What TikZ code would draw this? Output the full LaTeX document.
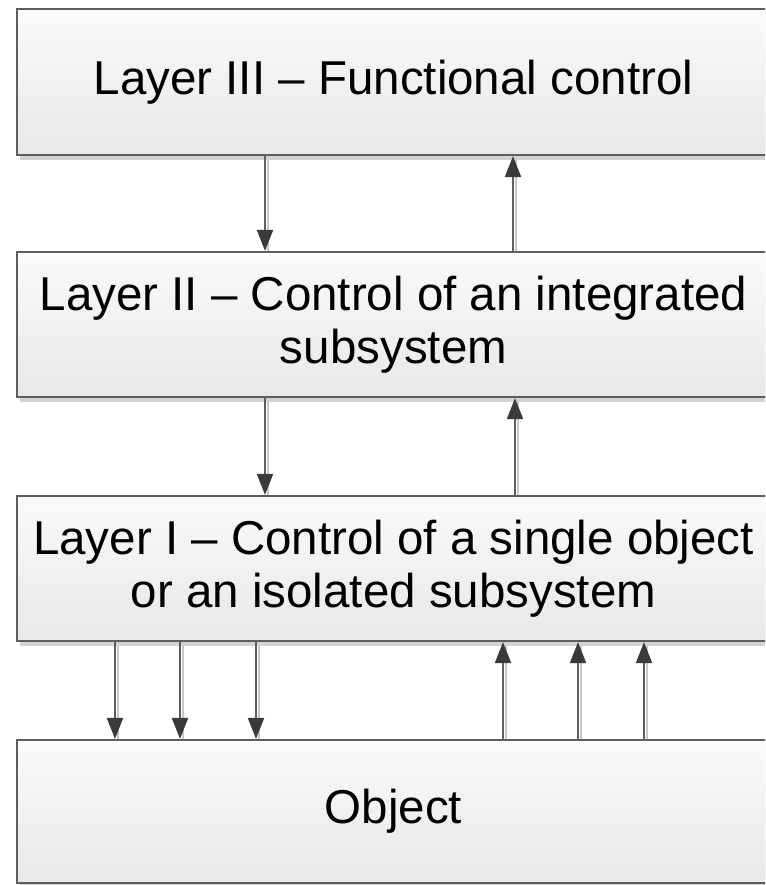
\documentclass[tikz,border=0pt]{standalone}
\usepackage{fontspec}
\setmainfont{Liberation Sans}
\usetikzlibrary{arrows.meta,shadows}
\definecolor{edge}{HTML}{5E5E5E}
\definecolor{tipc}{HTML}{3A3A3A}
\definecolor{shade}{HTML}{C8C8C8}
\tikzset{
  layerbox/.style={draw=edge, line width=2.2pt, rectangle, minimum width=753pt,
    top color=white!98!black, bottom color=white!91!black, align=center,
    font=\fontsize{47.5}{53}\selectfont, inner sep=0pt,
    drop shadow={shadow xshift=3pt, shadow yshift=-5pt, fill=shade, opacity=0.8}},
  flow/.style={draw=edge, line width=2pt,
    -{Triangle[length=21pt,width=16pt,color=tipc]}},
  flowshade/.style={draw=shade, line width=2.5pt}
}
\begin{document}
\begin{tikzpicture}[x=1pt,y=-1pt]
  \useasboundingbox (0,0) rectangle (765,885);
  \begin{scope}
  \clip (0,0) rectangle (765,885);
  % the four layers
  \node[layerbox, minimum height=146pt] (l3) at (393.5,82) {Layer III – Functional control};
  \node[layerbox, minimum height=145pt] (l2) at (393.5,324.5)
    {Layer II – Control of an integrated\\subsystem};
  \node[layerbox, minimum height=145pt] (l1) at (393.5,568.5)
    {Layer I – Control of a single object\\or an isolated subsystem};
  \node[layerbox, minimum height=143pt] (obj) at (393.5,811.5) {Object};
  \end{scope}
  % x positions of the connectors
  \coordinate (da) at (265,0);
  \coordinate (ua) at (513,0);
  \coordinate (db) at (265,0);
  \coordinate (ub) at (515,0);
  \coordinate (d1) at (115,0);
  \coordinate (d2) at (180,0);
  \coordinate (d3) at (256,0);
  \coordinate (u1) at (503,0);
  \coordinate (u2) at (578,0);
  \coordinate (u3) at (644,0);
  % soft shading beside the connectors
  \draw[flowshade] ([xshift=3pt,yshift=-4pt]l3.south -| da) -- ([xshift=3pt]l2.north -| da);
  \draw[flowshade] ([xshift=3pt,yshift=-4pt]l3.south -| ua) -- ([xshift=3pt]l2.north -| ua);
  \draw[flowshade] ([xshift=3pt,yshift=-4pt]l2.south -| db) -- ([xshift=3pt]l1.north -| db);
  \draw[flowshade] ([xshift=3pt,yshift=-4pt]l2.south -| ub) -- ([xshift=3pt]l1.north -| ub);
  \foreach \c in {d1,d2,d3,u1,u2,u3}{
    \draw[flowshade] ([xshift=3pt,yshift=-4pt]l1.south -| \c) -- ([xshift=3pt]obj.north -| \c);
  }
  % connectors between layers
  \draw[flow] (l3.south -| da) -- (l2.north -| da);
  \draw[flow] (l2.north -| ua) -- (l3.south -| ua);
  \draw[flow] (l2.south -| db) -- (l1.north -| db);
  \draw[flow] (l1.north -| ub) -- (l2.south -| ub);
  \foreach \c in {d1,d2,d3}{
    \draw[flow] (l1.south -| \c) -- (obj.north -| \c);
  }
  \foreach \c in {u1,u2,u3}{
    \draw[flow] (obj.north -| \c) -- (l1.south -| \c);
  }
\end{tikzpicture}
\end{document}
